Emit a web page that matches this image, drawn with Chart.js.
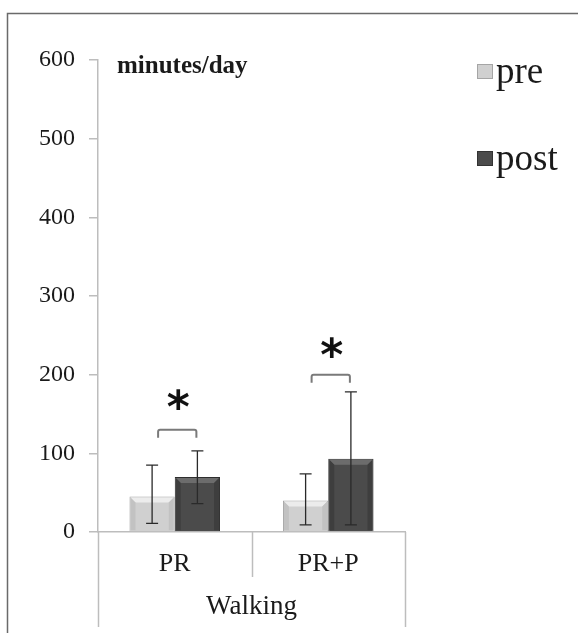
<!DOCTYPE html>
<html>
<head>
<meta charset="utf-8">
<script src="https://cdn.jsdelivr.net/npm/chart.js@4/dist/chart.umd.min.js"></script>
<style>
    html, body { margin: 0; padding: 0; background: #fff; }
    #wrap { width: 578px; height: 633px; }
</style>
</head>
<body>
<div id="wrap"><canvas id="walkingChart" width="578" height="633"></canvas></div>
<script>
// Walking minutes/day, pre vs post
const categories = ['PR', 'PR+P'];
const seriesNames = ['pre', 'post'];
const preValues = [45, 40];
const postValues = [70, 93];
const preErrLow = [11, 9];
const preErrHigh = [85, 74];
const postErrLow = [36, 9];
const postErrHigh = [103, 178];
const bracketLevels = [130, 200];
const starLevels = [164, 231];
const yTicks = [0, 100, 200, 300, 400, 500, 600];

const SERIF = '"Liberation Serif", "Times New Roman", serif';
const preColor = '#d0d0d0';
const postColor = '#4b4b4b';

// frame, bevels, separators, error bars, significance marks, labels
const decorPlugin = {
    id: 'decor',
    beforeDraw(chart) {
        const c = chart.ctx;
        c.save();
        c.strokeStyle = '#6a6a6a';
        c.lineWidth = 1.5;
        c.beginPath();
        c.moveTo(7.5, chart.height);
        c.lineTo(7.5, 13.5);
        c.lineTo(chart.width, 13.5);
        c.stroke();
        c.restore();
    },
    afterDatasetsDraw(chart) {
        const c = chart.ctx;
        const x = chart.scales.x;
        const y = chart.scales.y;
        const area = chart.chartArea;

        // bevel on the bars
        const bevelTop = ['#ececec', '#6c6c6c'];
        const bevelSide = ['#c2c2c2', '#3e3e3e'];
        c.save();
        chart.data.datasets.forEach((ds, di) => {
            chart.getDatasetMeta(di).data.forEach(bar => {
                const l = bar.x - bar.width / 2 + 1;
                const r = bar.x + bar.width / 2 - 1;
                const t = bar.y + 1;
                const b = bar.base - 1;
                const e = 5;
                c.fillStyle = bevelTop[di];
                c.beginPath();
                c.moveTo(l, t); c.lineTo(r, t); c.lineTo(r - e, t + e); c.lineTo(l + e, t + e);
                c.closePath(); c.fill();
                c.fillStyle = bevelSide[di];
                c.beginPath();
                c.moveTo(l, t); c.lineTo(l + e, t + e); c.lineTo(l + e, b); c.lineTo(l, b);
                c.closePath(); c.fill();
                c.beginPath();
                c.moveTo(r, t); c.lineTo(r - e, t + e); c.lineTo(r - e, b); c.lineTo(r, b);
                c.closePath(); c.fill();
            });
        });
        c.restore();

        // category separators below the axis
        c.save();
        c.strokeStyle = '#bdbdbd';
        c.lineWidth = 1.5;
        [-0.5, 0.5, 1.5].forEach((v, i) => {
            const px = Math.round(x.getPixelForValue(v)) + 0.5;
            c.beginPath();
            c.moveTo(px, area.bottom);
            c.lineTo(px, i === 1 ? area.bottom + 45 : chart.height - 6);
            c.stroke();
        });
        c.restore();

        // error bars
        const errs = [[preErrLow, preErrHigh], [postErrLow, postErrHigh]];
        c.save();
        c.strokeStyle = '#2a2a2a';
        c.lineWidth = 1.3;
        chart.data.datasets.forEach((ds, di) => {
            const meta = chart.getDatasetMeta(di);
            meta.data.forEach((bar, i) => {
                const top = y.getPixelForValue(errs[di][1][i]);
                const bot = y.getPixelForValue(errs[di][0][i]);
                const cap = 6;
                c.beginPath();
                c.moveTo(bar.x, top); c.lineTo(bar.x, bot);
                c.moveTo(bar.x - cap, top); c.lineTo(bar.x + cap, top);
                c.moveTo(bar.x - cap, bot); c.lineTo(bar.x + cap, bot);
                c.stroke();
            });
        });
        c.restore();

        // brackets and asterisks
        const preMeta = chart.getDatasetMeta(0);
        const postMeta = chart.getDatasetMeta(1);
        c.save();
        c.strokeStyle = '#7a7a7a';
        c.lineWidth = 2;
        c.lineJoin = 'round';
        categories.forEach((cat, i) => {
            const x0 = preMeta.data[i].x + 6;
            const x1 = postMeta.data[i].x - 1;
            const by = y.getPixelForValue(bracketLevels[i]);
            c.beginPath();
            c.moveTo(x0, by + 8);
            c.lineTo(x0, by + 2);
            c.quadraticCurveTo(x0, by, x0 + 2, by);
            c.lineTo(x1 - 2, by);
            c.quadraticCurveTo(x1, by, x1, by + 2);
            c.lineTo(x1, by + 8);
            c.stroke();

            c.fillStyle = '#111';
            c.font = 'bold 44px "DejaVu Sans", sans-serif';
            c.textAlign = 'center';
            c.textBaseline = 'middle';
            c.fillText('*', (x0 + x1) / 2 + 1, y.getPixelForValue(starLevels[i]) + 8);
        });
        c.restore();

        // unit label
        c.save();
        c.fillStyle = '#1a1a1a';
        c.font = 'bold 25px ' + SERIF;
        c.textAlign = 'left';
        c.textBaseline = 'alphabetic';
        c.fillText('minutes/day', area.left + 19, area.top + 13);

        // legend
        const colors = [preColor, postColor];
        const borders = ['#a5a5a5', '#333'];
        seriesNames.forEach((name, i) => {
            const lx = area.right + 72;
            const ly = area.top + 4 + i * 87;
            c.fillStyle = colors[i];
            c.strokeStyle = borders[i];
            c.lineWidth = 1;
            c.fillRect(lx, ly, 16, 15);
            c.strokeRect(lx + 0.5, ly + 0.5, 15, 14);
            c.fillStyle = '#1a1a1a';
            c.font = '37px ' + SERIF;
            c.fillText(name, lx + 19, ly + 19);
        });
        c.restore();
    }
};

class WalkingChart {
    constructor() {
        this.init();
    }

    init() {
        const ctx = document.getElementById('walkingChart');
        if (!ctx) return;

        this.chart = new Chart(ctx, {
            type: 'bar',
            data: {
                labels: categories,
                datasets: [{
                    label: seriesNames[0],
                    data: preValues,
                    backgroundColor: preColor,
                    borderColor: '#a5a5a5',
                    borderWidth: 1
                }, {
                    label: seriesNames[1],
                    data: postValues,
                    backgroundColor: postColor,
                    borderColor: '#2e2e2e',
                    borderWidth: 1
                }]
            },
            options: {
                responsive: false,
                animation: false,
                datasets: {
                    bar: {
                        barPercentage: 1,
                        categoryPercentage: 0.59
                    }
                },
                layout: {
                    padding: { top: 60, right: 173, left: 0, bottom: 0 }
                },
                plugins: {
                    legend: { display: false },
                    tooltip: { enabled: false }
                },
                scales: {
                    y: {
                        min: 0,
                        max: 600,
                        afterBuildTicks(scale) {
                            scale.ticks = yTicks.map(v => ({ value: v }));
                        },
                        afterFit(scale) {
                            scale.width = 98;
                        },
                        ticks: {
                            color: '#1a1a1a',
                            font: { family: SERIF, size: 24 },
                            padding: 14
                        },
                        grid: {
                            drawOnChartArea: false,
                            color: '#bdbdbd',
                            tickLength: 9,
                            lineWidth: 1.5
                        },
                        border: { color: '#bdbdbd', width: 1.5 }
                    },
                    x: {
                        afterFit(scale) {
                            scale.height = 101;
                        },
                        ticks: {
                            color: '#1a1a1a',
                            font: { family: SERIF, size: 26 },
                            padding: 9
                        },
                        grid: { display: false },
                        border: { color: '#bdbdbd', width: 1.5 },
                        title: {
                            display: true,
                            text: 'Walking',
                            color: '#1a1a1a',
                            font: { family: SERIF, size: 27 },
                            padding: { top: 0, bottom: 10 }
                        }
                    }
                }
            },
            plugins: [decorPlugin]
        });
    }
}

document.addEventListener('DOMContentLoaded', function() {
    window.walkingChart = new WalkingChart();
});
</script>
</body>
</html>
